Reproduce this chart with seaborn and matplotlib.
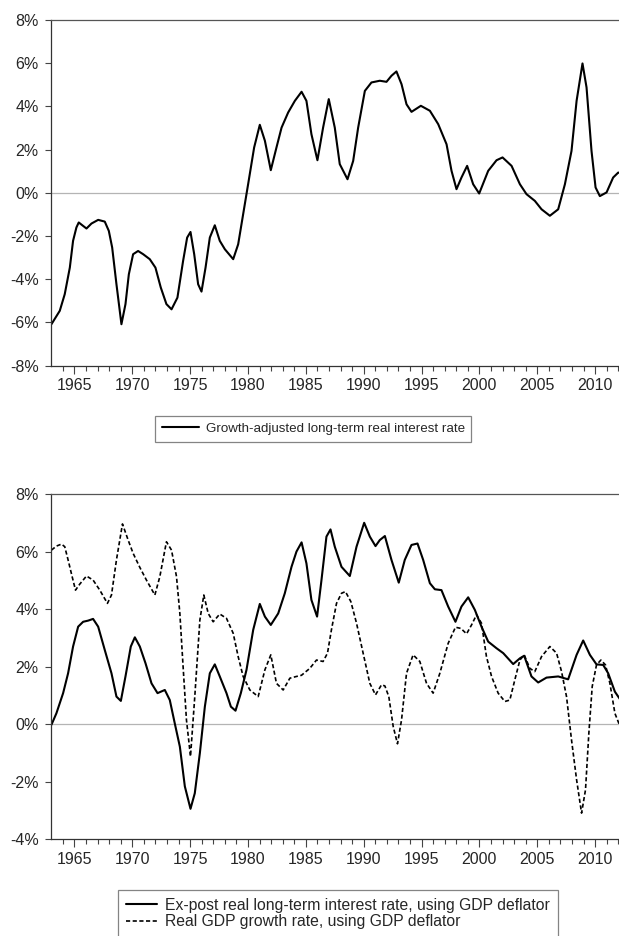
import matplotlib
matplotlib.use("Agg")
import matplotlib.pyplot as plt
import numpy as np
import pandas as pd
import seaborn as sns
from matplotlib.ticker import FixedLocator, FuncFormatter

# Donnees (annee, valeur en %)
top_years = [1963.01, 1963.73, 1964.16, 1964.6, 1964.88, 1965.17, 1965.37, 1965.75, 1966.04, 1966.47,
             1967.05, 1967.62, 1967.97, 1968.26, 1968.63, 1969.06, 1969.41, 1969.7, 1970.07, 1970.5,
             1970.94, 1971.51, 1972.0, 1972.46, 1972.95, 1973.39, 1973.9, 1974.39, 1974.74, 1975.03,
             1975.35, 1975.69, 1975.98, 1976.33, 1976.7, 1977.13, 1977.56, 1978.0, 1978.72, 1979.15,
             1979.58, 1980.01, 1980.53, 1981.02, 1981.46, 1981.97, 1982.46, 1982.9, 1983.47, 1984.05,
             1984.63, 1985.05, 1985.48, 1986.0, 1986.49, 1986.98, 1987.5, 1987.93, 1988.6, 1989.09,
             1989.52, 1990.1, 1990.67, 1991.39, 1991.97, 1992.4, 1992.83, 1993.27, 1993.7, 1994.13,
             1994.94, 1995.72, 1996.44, 1997.16, 1997.59, 1998.02, 1998.45, 1998.94, 1999.46, 1999.98,
             2000.76, 2001.48, 2002.0, 2002.78, 2003.5, 2004.07, 2004.79, 2005.37, 2006.09, 2006.81,
             2007.39, 2007.96, 2008.4, 2008.91, 2009.26, 2009.69, 2010.04, 2010.41, 2010.99, 2011.56,
             2012.0, 2012.2]
top_rate = [-6.08, -5.46, -4.69, -3.46, -2.22, -1.6, -1.37, -1.53, -1.65, -1.42,
            -1.25, -1.33, -1.76, -2.53, -4.23, -6.08, -5.15, -3.77, -2.84, -2.69,
            -2.84, -3.07, -3.46, -4.38, -5.15, -5.39, -4.85, -3.15, -2.07, -1.81,
            -2.84, -4.23, -4.57, -3.46, -2.07, -1.5, -2.22, -2.61, -3.07, -2.38,
            -0.99, 0.4, 2.1, 3.15, 2.41, 1.05, 2.1, 3.02, 3.72, 4.26,
            4.68, 4.26, 2.72, 1.51, 3.02, 4.34, 3.02, 1.33, 0.63, 1.48,
            3.02, 4.72, 5.11, 5.19, 5.14, 5.42, 5.62, 5.03, 4.1, 3.75,
            4.03, 3.8, 3.18, 2.25, 1.02, 0.17, 0.71, 1.25, 0.4, -0.03,
            1.02, 1.51, 1.64, 1.25, 0.4, -0.06, -0.37, -0.76, -1.06, -0.76,
            0.4, 1.94, 4.26, 5.99, 4.88, 1.94, 0.25, -0.15, 0.02, 0.71,
            0.94, 0.91]

real_years = [1963.01, 1963.44, 1964.02, 1964.45, 1964.88, 1965.32, 1965.75, 1966.18, 1966.61, 1967.05,
              1967.62, 1968.2, 1968.63, 1969.01, 1969.41, 1969.87, 1970.22, 1970.65, 1971.14, 1971.66,
              1972.18, 1972.81, 1973.24, 1973.67, 1974.11, 1974.54, 1975.03, 1975.4, 1975.84, 1976.27,
              1976.7, 1977.13, 1977.56, 1978.14, 1978.52, 1978.92, 1979.38, 1979.87, 1980.45, 1981.02,
              1981.46, 1981.97, 1982.61, 1983.18, 1983.76, 1984.19, 1984.63, 1985.05, 1985.48, 1985.97,
              1986.35, 1986.78, 1987.13, 1987.5, 1988.08, 1988.8, 1989.38, 1990.04, 1990.53, 1991.02,
              1991.39, 1991.83, 1992.4, 1993.03, 1993.55, 1994.13, 1994.65, 1995.14, 1995.72, 1996.15,
              1996.72, 1997.3, 1997.93, 1998.45, 1999.03, 1999.61, 2000.18, 2000.76, 2001.48, 2002.06,
              2002.92, 2003.5, 2003.87, 2004.5, 2005.08, 2005.8, 2006.81, 2007.67, 2008.4, 2008.97,
              2009.55, 2010.12, 2010.7, 2011.13, 2011.71, 2012.2]
real_rate = [-0.02, 0.38, 1.08, 1.77, 2.7, 3.39, 3.56, 3.6, 3.66, 3.39,
             2.58, 1.77, 0.96, 0.81, 1.66, 2.7, 3.02, 2.7, 2.12, 1.42,
             1.08, 1.19, 0.84, 0.03, -0.78, -2.16, -2.94, -2.4, -1.0, 0.61,
             1.77, 2.08, 1.66, 1.08, 0.61, 0.47, 1.08, 1.89, 3.28, 4.18,
             3.74, 3.45, 3.85, 4.55, 5.47, 6.0, 6.32, 5.59, 4.32, 3.74,
             5.01, 6.52, 6.77, 6.17, 5.47, 5.15, 6.17, 7.0, 6.52, 6.19,
             6.4, 6.54, 5.71, 4.92, 5.71, 6.23, 6.28, 5.71, 4.9, 4.69,
             4.66, 4.09, 3.56, 4.09, 4.41, 3.97, 3.39, 2.87, 2.64, 2.47,
             2.09, 2.29, 2.38, 1.66, 1.45, 1.62, 1.66, 1.56, 2.41, 2.91,
             2.41, 2.08, 2.06, 1.77, 1.13, 0.84]

gdp_years = [1963.01, 1963.44, 1963.88, 1964.16, 1964.45, 1964.8, 1965.09, 1965.46, 1966.04, 1966.61,
             1967.19, 1967.85, 1968.2, 1968.63, 1969.15, 1969.64, 1970.07, 1970.65, 1971.22, 1971.95,
             1972.38, 1972.95, 1973.39, 1973.82, 1974.11, 1974.39, 1974.68, 1975.03, 1975.4, 1975.84,
             1976.18, 1976.56, 1976.99, 1977.56, 1978.14, 1978.72, 1979.15, 1979.58, 1980.16, 1980.88,
             1981.46, 1981.97, 1982.46, 1983.04, 1983.62, 1984.19, 1984.62, 1985.34, 1985.92, 1986.49,
             1986.87, 1987.21, 1987.65, 1988.08, 1988.42, 1988.89, 1989.38, 1989.95, 1990.53, 1991.02,
             1991.54, 1991.83, 1992.17, 1992.55, 1992.92, 1993.27, 1993.7, 1994.27, 1994.85, 1995.43,
             1996.0, 1996.58, 1997.3, 1997.93, 1998.4, 1998.89, 1999.32, 1999.75, 2000.18, 2000.61,
             2001.05, 2001.62, 2002.2, 2002.63, 2003.06, 2003.5, 2003.87, 2004.36, 2004.79, 2005.37,
             2006.09, 2006.67, 2007.1, 2007.53, 2007.96, 2008.4, 2008.83, 2009.17, 2009.46, 2009.75,
             2010.12, 2010.5, 2010.9, 2011.28, 2011.71, 2012.14]
gdp_growth = [6.05, 6.19, 6.26, 6.17, 5.71, 5.13, 4.66, 4.87, 5.15, 5.01,
              4.66, 4.2, 4.49, 5.71, 6.96, 6.4, 5.94, 5.45, 5.01, 4.49,
              5.13, 6.34, 6.05, 5.13, 3.85, 2.0, 0.15, -1.12, 0.96, 3.62,
              4.49, 3.85, 3.56, 3.83, 3.68, 3.16, 2.35, 1.66, 1.19, 0.96,
              1.89, 2.41, 1.42, 1.19, 1.6, 1.66, 1.7, 1.94, 2.23, 2.18,
              2.47, 3.28, 4.2, 4.55, 4.61, 4.26, 3.51, 2.47, 1.42, 1.02,
              1.37, 1.33, 0.96, -0.08, -0.68, 0.15, 1.77, 2.41, 2.18, 1.42,
              1.08, 1.77, 2.81, 3.37, 3.33, 3.14, 3.45, 3.8, 3.51, 2.35,
              1.66, 1.08, 0.79, 0.84, 1.54, 2.23, 2.41, 1.94, 1.83, 2.35,
              2.7, 2.47, 1.83, 0.96, -0.54, -1.93, -3.09, -2.28, -0.31, 1.31,
              2.06, 2.23, 2.06, 1.42, 0.38, -0.06]

x_labels = [1965, 1970, 1975, 1980, 1985, 1990, 1995, 2000, 2005, 2010]
top_yticks = [-8, -6, -4, -2, 0, 2, 4, 6, 8]
bottom_yticks = [-4, -2, 0, 2, 4, 6, 8]

sns.set_style("ticks")
plt.rcParams["font.family"] = ["Liberation Sans", "DejaVu Sans"]
plt.rcParams["font.size"] = 11.5

fig = plt.figure(figsize=(6.19, 9.36), dpi=100)
ax_top = fig.add_axes([0.0829, 0.6093, 0.92, 0.3693])
ax_bot = fig.add_axes([0.0829, 0.1033, 0.92, 0.3689])


def style_axis(ax, yticks):
    ax.set_xlim(1963, 2012.3 + (0.92 * 619 - 570.4) / 11.57)
    ax.set_ylim(yticks[0], yticks[-1])
    ax.axhline(0, color="#b4b4b4", linewidth=0.9, zorder=1)
    ax.xaxis.set_major_locator(FixedLocator(x_labels))
    ax.xaxis.set_minor_locator(FixedLocator(list(range(1964, 2013))))
    ax.yaxis.set_major_locator(FixedLocator(yticks))
    ax.yaxis.set_major_formatter(FuncFormatter(lambda v, p: f"{v:.0f}%"))
    ax.tick_params(axis="x", which="major", length=6, width=0.8, color="#444444",
                   labelsize=11.5, pad=3)
    ax.tick_params(axis="x", which="minor", length=3.5, width=0.8, color="#444444")
    ax.tick_params(axis="y", which="major", length=4, width=0.8, color="#444444",
                   labelsize=11.5, pad=5)
    ax.spines["right"].set_visible(False)
    ax.spines["top"].set_color("#555555")
    ax.spines["top"].set_linewidth(0.9)
    for s in ["left", "bottom"]:
        ax.spines[s].set_color("#333333")
        ax.spines[s].set_linewidth(0.9)
    ax.set_xlabel("")
    ax.set_ylabel("")


# Graphe du haut
df_top = pd.DataFrame({"year": top_years, "rate": top_rate})
sns.lineplot(data=df_top, x="year", y="rate", ax=ax_top, color="black", linewidth=1.5,
             sort=False, label="Growth-adjusted long-term real interest rate")
style_axis(ax_top, top_yticks)
leg = ax_top.legend(loc="upper left", bbox_to_anchor=(155 / 619, 1 - 416 / 936),
                    bbox_transform=fig.transFigure, frameon=True, fancybox=False,
                    edgecolor="#666666", handlelength=2.8, handletextpad=0.5,
                    borderpad=0.5, borderaxespad=0, fontsize=9.6)
leg.get_frame().set_linewidth(0.9)

# Graphe du bas
df_real = pd.DataFrame({"year": real_years, "rate": real_rate})
df_gdp = pd.DataFrame({"year": gdp_years, "rate": gdp_growth})
sns.lineplot(data=df_real, x="year", y="rate", ax=ax_bot, color="black", linewidth=1.5,
             sort=False, label="Ex-post real long-term interest rate, using GDP deflator")
sns.lineplot(data=df_gdp, x="year", y="rate", ax=ax_bot, color="black", linewidth=1.2,
             sort=False, dashes=False, label="Real GDP growth rate, using GDP deflator")
ax_bot.lines[1].set_dashes((2.5, 1.5))
style_axis(ax_bot, bottom_yticks)
leg2 = ax_bot.legend(loc="upper left", bbox_to_anchor=(118 / 619, 1 - 890 / 936),
                     bbox_transform=fig.transFigure, frameon=True, fancybox=False,
                     edgecolor="#666666", handlelength=2.0, handletextpad=0.5,
                     borderpad=0.5, borderaxespad=0, labelspacing=0.08, fontsize=11.3)
leg2.get_frame().set_linewidth(0.9)

fig.savefig("out.png", dpi=100)
